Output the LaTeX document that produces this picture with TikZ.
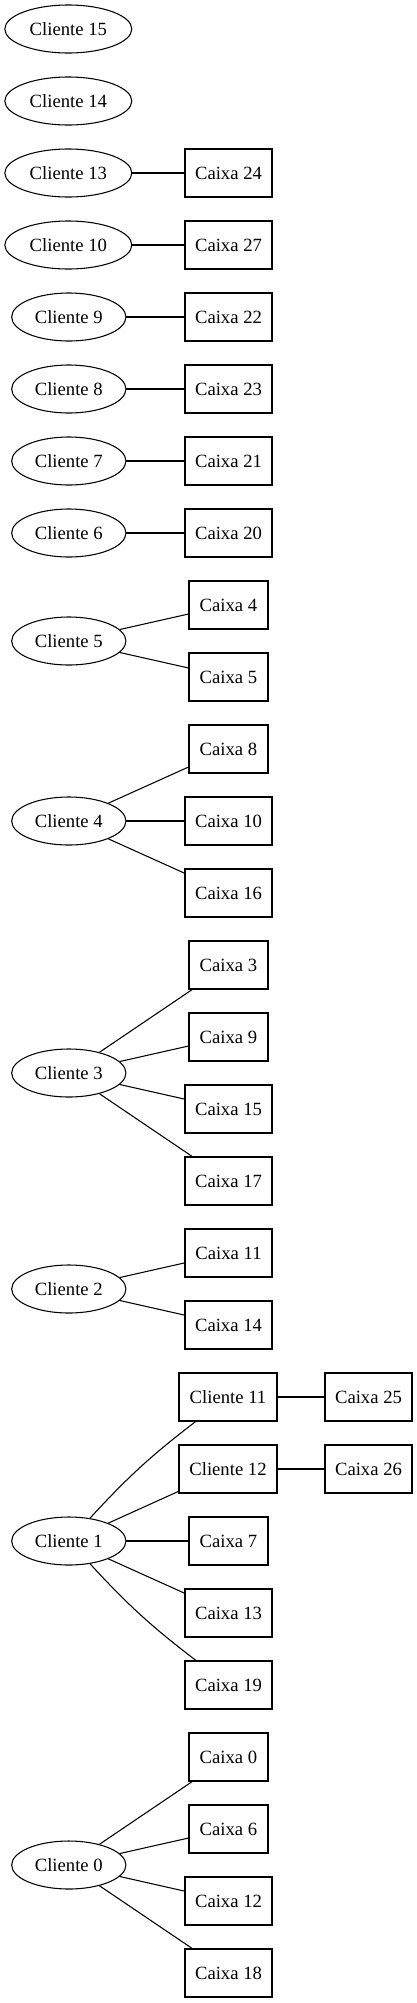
\documentclass[tikz,border=0pt]{standalone}
\usepackage{fontspec}
\setmainfont{Liberation Serif}
\usetikzlibrary{shapes.geometric}
\begin{document}
\begin{tikzpicture}[x=0.75pt,y=-0.75pt,
  every node/.style={font=\fontsize{14}{16}\selectfont, inner sep=0pt, line width=0.8pt},
  elltwo/.style={draw, ellipse, minimum width=95.25pt, minimum height=36pt},
  ellone/.style={draw, ellipse, minimum width=85.7pt, minimum height=36pt},
  boxone/.style={draw, rectangle, minimum width=59.25pt, minimum height=36pt},
  boxtwo/.style={draw, rectangle, minimum width=65.25pt, minimum height=36pt},
  boxcl/.style={draw, rectangle, minimum width=73.5pt, minimum height=36pt},
  edge/.style={draw, line width=0.8pt}]
\useasboundingbox (0,0) rectangle (417,2003);
% left column
\node[elltwo] (c15) at (68.3,29) {Cliente 15};
\node[elltwo] (c14) at (68.3,101) {Cliente 14};
\node[elltwo] (c13) at (68.3,173) {Cliente 13};
\node[elltwo] (c10) at (68.3,245) {Cliente 10};
\node[ellone] (c9) at (68.8,317) {Cliente 9};
\node[ellone] (c8) at (68.8,389) {Cliente 8};
\node[ellone] (c7) at (68.8,461) {Cliente 7};
\node[ellone] (c6) at (68.8,533) {Cliente 6};
\node[ellone] (c5) at (68.8,641) {Cliente 5};
\node[ellone] (c4) at (68.8,821) {Cliente 4};
\node[ellone] (c3) at (68.8,1073) {Cliente 3};
\node[ellone] (c2) at (68.8,1289) {Cliente 2};
\node[ellone] (c1) at (68.8,1541) {Cliente 1};
\node[ellone] (c0) at (68.8,1865) {Cliente 0};
% right column
\node[boxtwo] (b24) at (228.5,173) {Caixa 24};
\node[boxtwo] (b27) at (228.5,245) {Caixa 27};
\node[boxtwo] (b22) at (228.5,317) {Caixa 22};
\node[boxtwo] (b23) at (228.5,389) {Caixa 23};
\node[boxtwo] (b21) at (228.5,461) {Caixa 21};
\node[boxtwo] (b20) at (228.5,533) {Caixa 20};
\node[boxone] (b4) at (228.5,605) {Caixa 4};
\node[boxone] (b5) at (228.5,677) {Caixa 5};
\node[boxone] (b8) at (228.5,749) {Caixa 8};
\node[boxtwo] (b10) at (228.5,821) {Caixa 10};
\node[boxtwo] (b16) at (228.5,893) {Caixa 16};
\node[boxone] (b3) at (228.5,965) {Caixa 3};
\node[boxone] (b9) at (228.5,1037) {Caixa 9};
\node[boxtwo] (b15) at (228.5,1109) {Caixa 15};
\node[boxtwo] (b17) at (228.5,1181) {Caixa 17};
\node[boxtwo] (b11) at (228.5,1253) {Caixa 11};
\node[boxtwo] (b14) at (228.5,1325) {Caixa 14};
\node[boxcl] (c11) at (228,1397) {Cliente 11};
\node[boxcl] (c12) at (228,1469) {Cliente 12};
\node[boxone] (b7) at (228.5,1541) {Caixa 7};
\node[boxtwo] (b13) at (228.5,1613) {Caixa 13};
\node[boxtwo] (b19) at (228.5,1685) {Caixa 19};
\node[boxone] (b0) at (228.5,1757) {Caixa 0};
\node[boxone] (b6) at (228.5,1829) {Caixa 6};
\node[boxtwo] (b12) at (228.5,1901) {Caixa 12};
\node[boxtwo] (b18) at (228.5,1973) {Caixa 18};
% third column
\node[boxtwo] (b25) at (368.5,1397) {Caixa 25};
\node[boxtwo] (b26) at (368.5,1469) {Caixa 26};
% edges
\path[edge] (c13) -- (b24);
\path[edge] (c10) -- (b27);
\path[edge] (c9) -- (b22);
\path[edge] (c8) -- (b23);
\path[edge] (c7) -- (b21);
\path[edge] (c6) -- (b20);
\path[edge] (c5) -- (b4);
\path[edge] (c5) -- (b5);
\path[edge] (c4) -- (b8);
\path[edge] (c4) -- (b10);
\path[edge] (c4) -- (b16);
\path[edge] (c3) -- (b3);
\path[edge] (c3) -- (b9);
\path[edge] (c3) -- (b15);
\path[edge] (c3) -- (b17);
\path[edge] (c2) -- (b11);
\path[edge] (c2) -- (b14);
\path[edge] (c1) to[bend left=5] (c11);
\path[edge] (c1) -- (c12);
\path[edge] (c1) -- (b7);
\path[edge] (c1) -- (b13);
\path[edge] (c1) to[bend right=5] (b19);
\path[edge] (c11) -- (b25);
\path[edge] (c12) -- (b26);
\path[edge] (c0) -- (b0);
\path[edge] (c0) -- (b6);
\path[edge] (c0) -- (b12);
\path[edge] (c0) -- (b18);
\end{tikzpicture}
\end{document}
